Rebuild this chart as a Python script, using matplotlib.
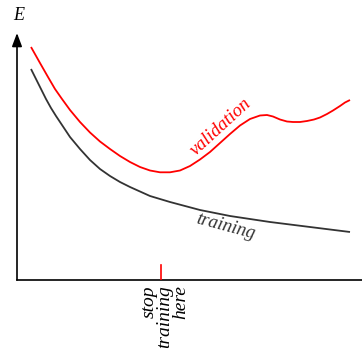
import matplotlib
matplotlib.use("Agg")
import matplotlib.pyplot as plt

# curves (epoch, error), arbitrary units
val_epochs = [14, 23, 31, 38, 45, 53, 63, 73, 83, 93, 103, 113, 123, 133, 143, 153, 163,
              173, 183, 193, 203, 213, 223, 233, 243, 250, 256, 263, 270, 276, 283, 290,
              297, 303, 310, 316, 323, 328, 333]
val_errors = [233, 217, 203, 191, 181, 170, 158, 147.5, 138.5, 131, 124, 118, 113, 109.5,
              107.7, 107.7, 109.5, 114, 120.5, 128, 137, 146, 154.5, 161, 164.5, 165,
              163.5, 160.5, 158.5, 158, 158, 159, 160.5, 162.5, 166, 169.5, 174, 177.5, 180]
train_epochs = [14, 19, 24, 29, 34, 39, 45, 53, 63, 73, 83, 93, 103, 113, 123, 133, 143,
                153, 168, 183, 198, 213, 233, 253, 273, 293, 313, 333]
train_errors = [211, 201, 191, 181, 172, 164, 155, 143, 131, 120, 111, 104, 98, 93, 88.5,
                84, 81, 78, 74, 70, 67, 64, 61, 58, 55.5, 53, 50.5, 48]
stop_epoch = 144

fig = plt.figure(figsize=(3.62, 3.51), dpi=100)
ax = fig.add_axes([17 / 362, 71 / 351, 345 / 362, 280 / 351])
ax.set_xlim(0, 345)
ax.set_ylim(0, 280)
ax.axis("off")

serif = {"family": "Liberation Serif", "style": "italic"}

ax.plot(val_epochs, val_errors, color="#ff0000", lw=1.3, solid_capstyle="butt",
        solid_joinstyle="round")
ax.plot(train_epochs, train_errors, color="#333333", lw=1.3, solid_capstyle="butt",
        solid_joinstyle="round")

# axes
ax.plot([0, 345], [0, 0], color="black", lw=1.2, clip_on=False)
ax.annotate("", xy=(0, 247), xytext=(0, 0),
            arrowprops=dict(arrowstyle="-|>,head_length=0.8,head_width=0.3",
                            mutation_scale=10, lw=1.2, color="black",
                            shrinkA=0, shrinkB=0))
ax.text(2, 265, "E", fontsize=13, ha="center", va="center", **serif)

# stop marker
ax.plot([stop_epoch, stop_epoch], [0, 15], color="#ff0000", lw=1.2)
ax.text(stop_epoch + 4, -5, "stop\ntraining\nhere", rotation=90, ha="center", va="top",
        multialignment="right", fontsize=14, linespacing=0.88, clip_on=False, **serif)

ax.text(204, 153, "validation", rotation=42.5, rotation_mode="anchor",
        ha="center", va="center", color="#ff0000", fontsize=13.5, **serif)
ax.text(209, 53, "training", rotation=-15, rotation_mode="anchor",
        ha="center", va="center", color="#333333", fontsize=13.5, **serif)

fig.savefig("out.png", dpi=100)
